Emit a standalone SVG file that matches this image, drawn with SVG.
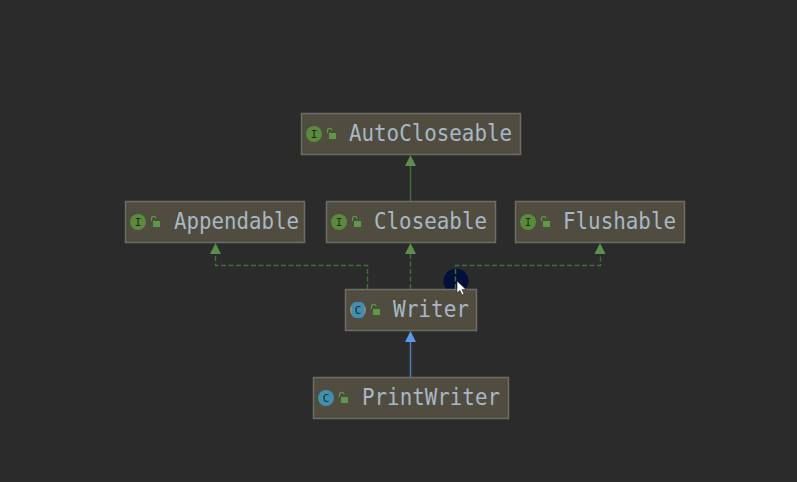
<svg xmlns="http://www.w3.org/2000/svg" width="797" height="482" viewBox="0 0 797 482">
<style>
.box{fill:#504d40;stroke:#6d6d68;stroke-width:1.5}
.lbl{font-family:"DejaVu Sans Mono","Liberation Mono",monospace;font-size:22.5px;fill:#a9b7c6}
.ic{font-family:"DejaVu Sans Mono","Liberation Mono",monospace;font-size:11px;fill:#1f2a1a;text-anchor:middle}
.i{fill:#5c8a3c}
.c{fill:#3f8fb0}
.lock{fill:#5c9a45}
.shackle{fill:none;stroke:#5c9a45;stroke-width:1.2}
.g{fill:none;stroke:#3f7038;stroke-width:1.4}
.d{stroke-dasharray:5 2.500}
.ah{fill:#5c8f4e}
</style>
<defs>
<g id="lk"><path class="shackle" d="M-4.500 -1V-3.500a2.200 2.200 0 0 1 4.400 0"/><rect class="lock" x="-3" y="-1" width="7" height="6"/></g>
<path id="ar" d="M0 0l5.500 11h-11z"/>
</defs>
<rect width="797" height="482" fill="#2b2b2b"/>
<g id="connectors">
<path class="g" d="M410.500 201V166"/>
<path class="g d" d="M367.500 289V265.500H215.500V254"/>
<path class="g d" d="M410.500 289V254"/>
<circle cx="456" cy="281" r="12.500" fill="#04103a"/>
<path d="M446 289a12.500 12.500 0 0 0 20 0z" fill="#0f5a66"/>
<path class="g d" d="M455.500 289V265.500H600.500V254"/>
<path d="M410.500 377V342" fill="none" stroke="#4a80c0" stroke-width="1.400"/>
<use href="#ar" class="ah" x="410.500" y="155"/>
<use href="#ar" class="ah" x="215.500" y="243"/>
<use href="#ar" class="ah" x="410.500" y="243"/>
<use href="#ar" class="ah" x="600" y="243"/>
<use href="#ar" x="410.500" y="331" fill="#589bf0"/>
</g>
<g id="AutoCloseable"><rect class="box" x="301.500" y="113.500" width="219" height="41"/><circle class="i" cx="314" cy="134" r="8"/><text class="ic" x="314" y="138">I</text><use href="#lk" x="332" y="134"/><text class="lbl" x="349" y="141" textLength="163" lengthAdjust="spacingAndGlyphs">AutoCloseable</text></g>
<g id="Appendable"><rect class="box" x="125.500" y="201.500" width="179" height="41"/><circle class="i" cx="138" cy="222" r="8"/><text class="ic" x="138" y="226">I</text><use href="#lk" x="156" y="222"/><text class="lbl" x="174" y="229" textLength="125" lengthAdjust="spacingAndGlyphs">Appendable</text></g>
<g id="Closeable"><rect class="box" x="326.500" y="201.500" width="169" height="41"/><circle class="i" cx="339" cy="222" r="8"/><text class="ic" x="339" y="226">I</text><use href="#lk" x="357" y="222"/><text class="lbl" x="374" y="229" textLength="113" lengthAdjust="spacingAndGlyphs">Closeable</text></g>
<g id="Flushable"><rect class="box" x="515.500" y="201.500" width="169" height="41"/><circle class="i" cx="528" cy="222" r="8"/><text class="ic" x="528" y="226">I</text><use href="#lk" x="546" y="222"/><text class="lbl" x="563" y="229" textLength="113" lengthAdjust="spacingAndGlyphs">Flushable</text></g>
<g id="Writer"><rect class="box" x="345.500" y="289.500" width="131" height="41"/><circle cx="358" cy="310" r="8" fill="#8a8a8a"/><rect x="352" y="302" width="12" height="16" rx="4" fill="#3f8fb0"/><text class="ic" x="358" y="314">C</text><use href="#lk" x="376" y="310"/><text class="lbl" x="393" y="317" textLength="76" lengthAdjust="spacingAndGlyphs">Writer</text></g>
<g id="PrintWriter"><rect class="box" x="313.500" y="377.500" width="195" height="41"/><circle class="c" cx="326" cy="398" r="8"/><text class="ic" x="326" y="402">C</text><use href="#lk" x="344" y="398"/><text class="lbl" x="362" y="405" textLength="138" lengthAdjust="spacingAndGlyphs">PrintWriter</text></g>
<path id="cursor" d="M457 281v12l3-2.500 2 4.500 2-1-2-4.500h4z" fill="#fff" stroke="#222" stroke-width="0.600"/>
</svg>
